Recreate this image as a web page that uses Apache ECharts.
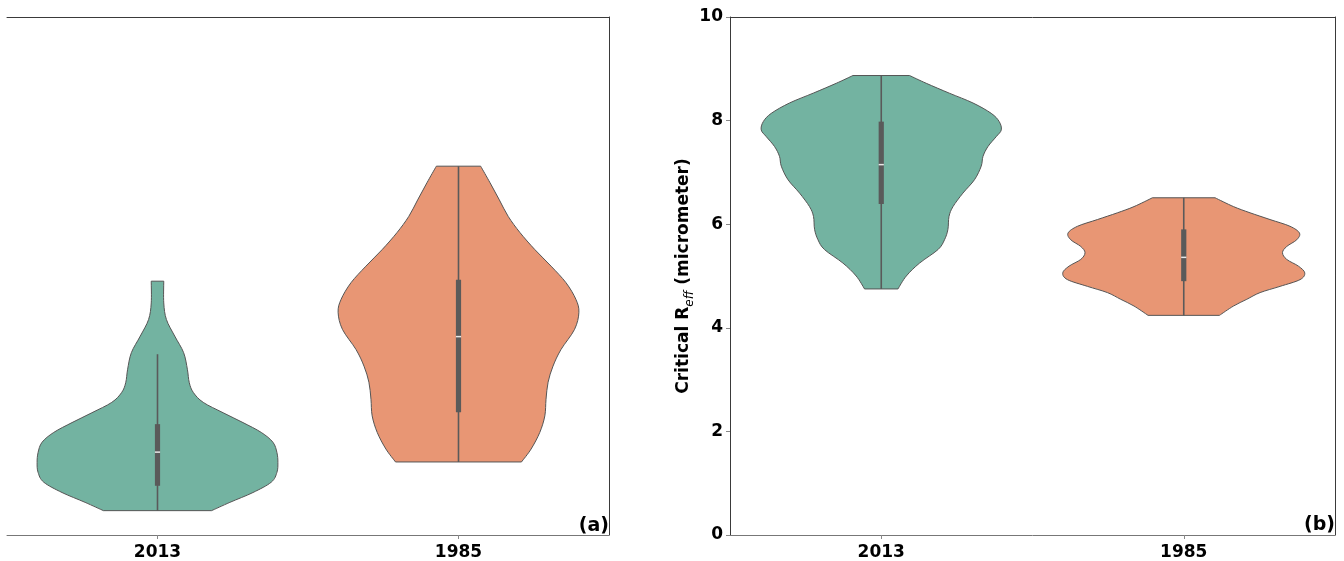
<!DOCTYPE html>
<html>
<head>
<meta charset="utf-8">
<script src="https://cdn.jsdelivr.net/npm/echarts@6/dist/echarts.min.js"></script>
<style>html,body{margin:0;padding:0;background:#fff}#c{width:1344px;height:561px}</style>
</head>
<body>
<div id="c"></div>
<script>
// ---------- DATA ----------
const categories = ['2013', '1985'];
const yTicksB = [0, 2, 4, 6, 8, 10];

// Panel (a) — violin outlines: value along y, relative half-width (1 = widest)
const a2013Values = [4.90, 4.48, 4.16, 3.84, 3.52, 3.20, 2.94, 2.75, 2.56, 2.36, 2.17, 1.98, 1.79, 1.59, 1.40, 1.21, 1.02, 0.82, 0.63, 0.47];
const a2013Widths = [0.052, 0.052, 0.074, 0.143, 0.217, 0.248, 0.264, 0.298, 0.38, 0.545, 0.71, 0.862, 0.959, 0.992, 1.0, 0.992, 0.945, 0.793, 0.601, 0.449];
const a1985Values = [7.12, 6.80, 6.47, 6.15, 5.84, 5.51, 5.19, 4.87, 4.55, 4.30, 3.97, 3.58, 3.26, 2.95, 2.62, 2.30, 1.98, 1.66, 1.41];
const a1985Widths = [0.184, 0.262, 0.339, 0.413, 0.51, 0.634, 0.769, 0.893, 0.975, 1.0, 0.964, 0.851, 0.785, 0.744, 0.727, 0.717, 0.675, 0.603, 0.523];
// box stats: [whiskerLow, Q1, median, Q3, whiskerHigh]
const a2013Box = [0.47, 0.95, 1.60, 2.14, 3.49];
const a1985Box = [1.41, 2.37, 3.83, 4.93, 7.12];

// Panel (b)
const b2013Values = [8.87, 8.72, 8.53, 8.34, 8.14, 7.98, 7.82, 7.69, 7.50, 7.31, 7.12, 6.86, 6.60, 6.34, 6.15, 5.90, 5.70, 5.51, 5.25, 5.00, 4.75];
const b2013Widths = [0.234, 0.372, 0.562, 0.758, 0.909, 0.975, 0.992, 0.95, 0.882, 0.841, 0.826, 0.771, 0.675, 0.593, 0.56, 0.551, 0.523, 0.469, 0.317, 0.207, 0.138];
const b1985Values = [6.51, 6.34, 6.22, 6.09, 5.96, 5.83, 5.70, 5.57, 5.45, 5.32, 5.19, 5.06, 4.93, 4.80, 4.68, 4.55, 4.42, 4.24];
const b1985Widths = [0.259, 0.411, 0.548, 0.713, 0.878, 0.956, 0.934, 0.851, 0.816, 0.851, 0.948, 1.0, 0.961, 0.796, 0.631, 0.521, 0.411, 0.295];
const b2013Box = [4.75, 6.39, 7.15, 7.98, 8.87];
const b1985Box = [4.24, 4.90, 5.36, 5.90, 6.51];

// ---------- STYLE ----------
const FONT = 'DejaVu Sans';
const colors = ['#73b3a1', '#e89674'];
const edge = '#555555';
const boxColor = '#5a5a5a';

const violinsA = [
  {values: a2013Values, widths: a2013Widths, box: a2013Box},
  {values: a1985Values, widths: a1985Widths, box: a1985Box}
];
const violinsB = [
  {values: b2013Values, widths: b2013Widths, box: b2013Box},
  {values: b1985Values, widths: b1985Widths, box: b1985Box}
];

// Catmull-Rom smoothed path segment through pts (starting at pts[0] already)
function smoothSeg(pts) {
  let d = '';
  const n = pts.length;
  for (let i = 0; i < n - 1; i++) {
    const p0 = pts[Math.max(i - 1, 0)], p1 = pts[i], p2 = pts[i + 1], p3 = pts[Math.min(i + 2, n - 1)];
    const c1x = p1[0] + (p2[0] - p0[0]) / 6, c1y = p1[1] + (p2[1] - p0[1]) / 6;
    const c2x = p2[0] - (p3[0] - p1[0]) / 6, c2y = p2[1] - (p3[1] - p1[1]) / 6;
    d += ' C' + c1x.toFixed(2) + ',' + c1y.toFixed(2) + ' ' + c2x.toFixed(2) + ',' + c2y.toFixed(2) + ' ' + p2[0].toFixed(2) + ',' + p2[1].toFixed(2);
  }
  return d;
}

function makeRender(violins) {
  return function (params, api) {
    const idx = api.value(0);
    const v = violins[idx];
    const band = api.size([1, 0])[0];
    const maxHalf = band * 0.4;
    const cx = api.coord([idx, 0])[0];
    const right = [], left = [];
    for (let i = 0; i < v.values.length; i++) {
      const y = api.coord([idx, v.values[i]])[1];
      right.push([cx + v.widths[i] * maxHalf, y]);
      left.push([cx - v.widths[i] * maxHalf, y]);
    }
    left.reverse();
    const n = right.length;
    let d = 'M' + left[n - 1][0].toFixed(2) + ',' + left[n - 1][1].toFixed(2);
    d += ' L' + right[0][0].toFixed(2) + ',' + right[0][1].toFixed(2);
    d += smoothSeg(right);
    d += ' L' + left[0][0].toFixed(2) + ',' + left[0][1].toFixed(2);
    d += smoothSeg(left);
    d += ' Z';
    const b = v.box;
    const yLo = api.coord([idx, b[0]])[1];
    const yQ1 = api.coord([idx, b[1]])[1];
    const yMed = api.coord([idx, b[2]])[1];
    const yQ3 = api.coord([idx, b[3]])[1];
    const yHi = api.coord([idx, b[4]])[1];
    return {
      type: 'group',
      children: [
        {type: 'path', shape: {pathData: d}, style: {fill: colors[idx], stroke: edge, lineWidth: 1}},
        {type: 'line', shape: {x1: cx, y1: yLo, x2: cx, y2: yHi}, style: {stroke: boxColor, lineWidth: 1.6}},
        {type: 'rect', shape: {x: cx - 2.6, y: yQ3, width: 5.2, height: yQ1 - yQ3}, style: {fill: boxColor}},
        {type: 'line', shape: {x1: cx - 2.6, y1: yMed, x2: cx + 2.6, y2: yMed}, style: {stroke: '#e8e8e8', lineWidth: 1.5}}
      ]
    };
  };
}

const frameLine = {show: true, onZero: false, lineStyle: {color: '#3a3a3a', width: 1}};
const catAxisBase = {
  type: 'category', data: categories, boundaryGap: true,
  axisTick: {show: true, alignWithLabel: true, length: 4, lineStyle: {color: '#888'}},
  axisLabel: {fontFamily: FONT, fontWeight: 'bold', fontSize: 17, color: '#000', margin: 9},
  axisLine: {show: true, onZero: false, lineStyle: {color: '#777', width: 1}}
};

const option = {
  animation: false,
  backgroundColor: '#fff',
  grid: [
    {left: 7, right: 735, top: 17, bottom: 25},
    {left: 730, right: 9, top: 17, bottom: 25}
  ],
  xAxis: [
    Object.assign({}, catAxisBase, {gridIndex: 0, position: 'bottom'}),
    {type: 'category', data: categories, gridIndex: 0, position: 'top', axisLine: frameLine, axisTick: {show: false}, axisLabel: {show: false}},
    Object.assign({}, catAxisBase, {gridIndex: 1, position: 'bottom'}),
    {type: 'category', data: categories, gridIndex: 1, position: 'top', axisLine: frameLine, axisTick: {show: false}, axisLabel: {show: false}}
  ],
  yAxis: [
    {type: 'value', gridIndex: 0, min: 0, max: 10, interval: 2, axisLine: {show: false}, axisTick: {show: false}, axisLabel: {show: false}, splitLine: {show: false}},
    {type: 'value', gridIndex: 0, min: 0, max: 10, position: 'right', axisLine: frameLine, axisTick: {show: false}, axisLabel: {show: false}, splitLine: {show: false}},
    {type: 'value', gridIndex: 1, min: 0, max: 10, interval: 2, position: 'left',
      axisLine: frameLine,
      axisTick: {show: true, length: 4, lineStyle: {color: '#888'}},
      axisLabel: {fontFamily: FONT, fontWeight: 'bold', fontSize: 17, color: '#000', margin: 7, formatter: function (v) { return yTicksB.indexOf(v) >= 0 ? String(v) : ''; }},
      splitLine: {show: false},
      name: '{m|Critical R}{s|eff}{m| (micrometer)}',
      nameLocation: 'middle', nameGap: 31, nameRotate: 90,
      nameTextStyle: {
        rich: {
          m: {fontFamily: FONT, fontWeight: 'bold', fontSize: 17, color: '#000', lineHeight: 22, verticalAlign: 'bottom'},
          s: {fontFamily: FONT, fontStyle: 'italic', fontSize: 12, color: '#000', lineHeight: 22, verticalAlign: 'bottom', padding: [0, 0, -3, 0]}
        }
      }
    },
    {type: 'value', gridIndex: 1, min: 0, max: 10, position: 'right', axisLine: frameLine, axisTick: {show: false}, axisLabel: {show: false}, splitLine: {show: false}}
  ],
  series: [
    {type: 'custom', xAxisIndex: 0, yAxisIndex: 0, renderItem: makeRender(violinsA), data: [[0], [1]], clip: false},
    {type: 'custom', xAxisIndex: 2, yAxisIndex: 2, renderItem: makeRender(violinsB), data: [[0], [1]], clip: false}
  ],
  graphic: [
    {type: 'text', right: 735, bottom: 25, style: {text: '(a)', font: 'bold 19px "DejaVu Sans"', fill: '#000'}},
    {type: 'text', right: 9, bottom: 26, style: {text: '(b)', font: 'bold 19px "DejaVu Sans"', fill: '#000'}}
  ]
};

const chart = echarts.init(document.getElementById('c'), null, {renderer: 'canvas'});
chart.setOption(option);
</script>
</body>
</html>
